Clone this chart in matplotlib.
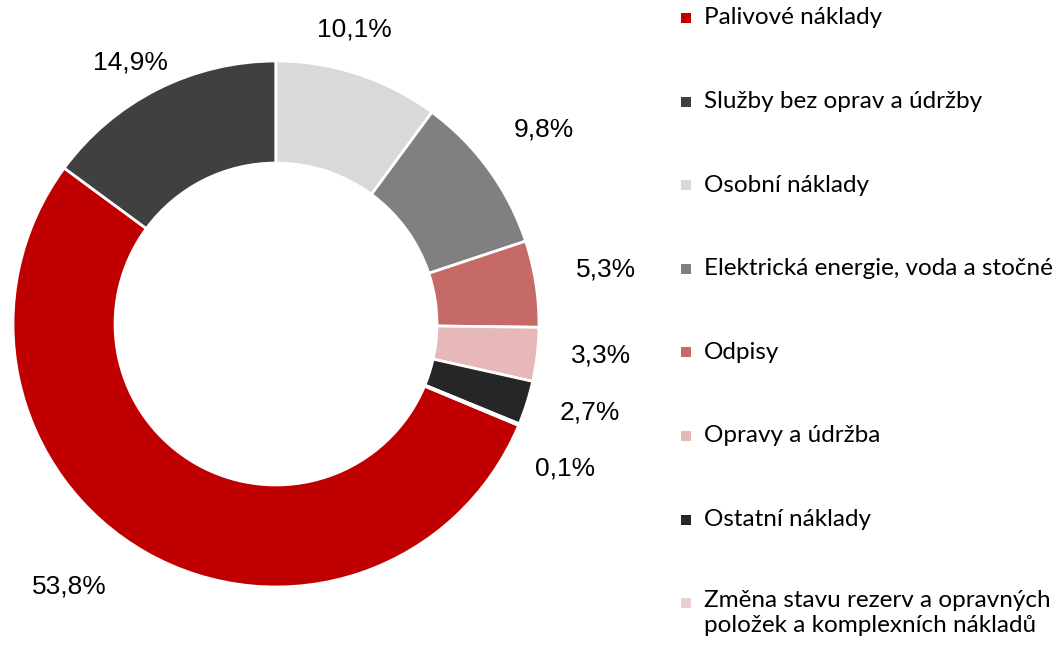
import numpy as np
import matplotlib
matplotlib.use("Agg")
from matplotlib import pyplot as plt

# data
labels = ["Palivové náklady", "Služby bez oprav a údržby", "Osobní náklady",
          "Elektrická energie, voda a stočné", "Odpisy", "Opravy a údržba",
          "Ostatní náklady", "Změna stavu rezerv a opravných\npoložek a komplexních nákladů"]
values = [53.8, 14.9, 10.1, 9.8, 5.3, 3.3, 2.7, 0.1]
colors = ["#C00000", "#404040", "#D9D9D9", "#808080", "#C66A68", "#E6B9B8", "#262626", "#EBCFCF"]
pct_text = ["53,8%", "14,9%", "10,1%", "9,8%", "5,3%", "3,3%", "2,7%", "0,1%"]

# label placement (distance from centre in radii, angular nudge in degrees)
lab_dist = [1.27, 1.14, 1.16, 1.26, 1.27, 1.24, 1.24, 1.23]
lab_nudge = [-8.8, 2.3, 3.2, 0, 0.5, 1.2, 1.8, -4]

W, H = 1064, 647
fig = plt.figure(figsize=(W / 100, H / 100), dpi=100)

cx, cy, R = 276, 324, 263
ax = fig.add_axes([(cx - R) / W, (H - cy - R) / H, 2 * R / W, 2 * R / H])

start = 90 - sum(values[2:]) * 3.6
wedges, _ = ax.pie(values, colors=colors, startangle=start, counterclock=False,
                   wedgeprops=dict(width=0.388, edgecolor="white", linewidth=2))
ax.set_xlim(-1, 1)
ax.set_ylim(-1, 1)
ax.set_aspect("equal")
ax.axis("off")

for w, t, d, n in zip(wedges, pct_text, lab_dist, lab_nudge):
    a = np.deg2rad((w.theta1 + w.theta2) / 2 + n)
    ax.text(d * np.cos(a), d * np.sin(a), t, ha="center", va="center",
            fontsize=19, family="Liberation Sans", color="black", clip_on=False)

# legend drawn by hand
row_y0 = 18
row_step = 83.6
for i, (lab, c) in enumerate(zip(labels, colors)):
    y = row_y0 + i * row_step
    fig.patches.append(plt.Rectangle(((686 - 5) / W, 1 - (y + 5) / H), 10 / W, 10 / H,
                                     transform=fig.transFigure, facecolor=c, edgecolor="none"))
    if "\n" in lab:
        fig.text(704 / W, 1 - (y - 13) / H, lab, ha="left", va="top",
                 fontsize=17.5, family="Lato", color="black", linespacing=1.22)
    else:
        fig.text(704 / W, 1 - y / H, lab, ha="left", va="center",
                 fontsize=17.5, family="Lato", color="black")

fig.savefig("out.png", dpi=100)
